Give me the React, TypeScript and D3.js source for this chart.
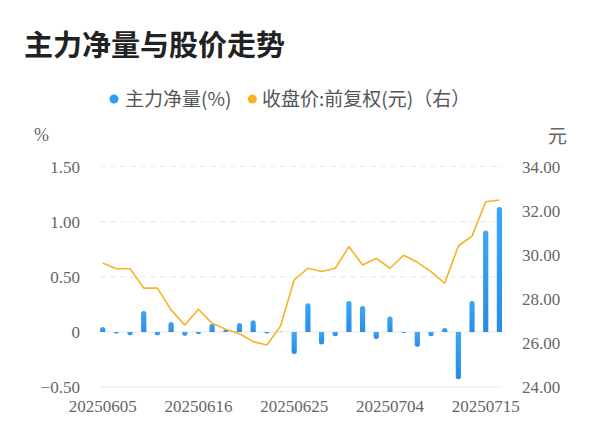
import React from 'react';
import * as d3 from 'd3';

const dates = [
  '20250605', '20250606', '20250609', '20250610', '20250611', '20250612', '20250613',
  '20250616', '20250617', '20250618', '20250619', '20250620', '20250623', '20250624',
  '20250625', '20250626', '20250627', '20250630', '20250701', '20250702', '20250703',
  '20250704', '20250707', '20250708', '20250709', '20250710', '20250711', '20250714',
  '20250715', '20250716',
];

// 主力净量(%)
const netFlow = [
  0.045, -0.015, -0.03, 0.19, -0.03, 0.09, -0.035, -0.02, 0.075, 0.025,
  0.08, 0.105, -0.015, 0.003, -0.2, 0.26, -0.115, -0.04, 0.28, 0.235,
  -0.065, 0.14, -0.01, -0.135, -0.04, 0.035, -0.43, 0.28, 0.92, 1.135,
];

// 收盘价:前复权(元)
const closePrice = [
  29.63, 29.37, 29.37, 28.49, 28.49, 27.5, 26.81, 27.53, 26.89, 26.62,
  26.42, 26.06, 25.91, 26.77, 28.86, 29.39, 29.24, 29.39, 30.37, 29.54,
  29.84, 29.39, 29.98, 29.66, 29.24, 28.71, 30.4, 30.85, 32.41, 32.49,
];

const leftTicks = [-0.5, 0, 0.5, 1, 1.5];
const rightTicks = [24, 26, 28, 30, 32, 34];
const xLabelDates = ['20250605', '20250616', '20250625', '20250704', '20250715'];

const W = 600;
const H = 446;
const plot = { left: 100, right: 502, top: 166.7, bottom: 387 };
const tickFont = '"Liberation Serif", serif';
const cjkFont = '"Noto Sans CJK SC", "Noto Sans", sans-serif';

const App: React.FC = () => {
  const x = d3.scalePoint<string>().domain(dates).range([102.7, 499.4]);
  const yL = d3.scaleLinear().domain([-0.5, 1.5]).range([plot.bottom, plot.top]);
  const yR = d3.scaleLinear().domain([24, 34]).range([plot.bottom, plot.top]);

  const barW = 5.2;
  const r = 2.5;
  // 柱子远端做圆角
  const barPath = (d: string, v: number) => {
    const cx = x(d) as number;
    const x0 = cx - barW / 2;
    const x1 = cx + barW / 2;
    const y0 = yL(0);
    const y1 = yL(v);
    const h = Math.abs(y1 - y0);
    const rr = Math.min(r, h);
    if (v >= 0) {
      return `M${x0},${y0}L${x0},${y1 + rr}Q${x0},${y1} ${cx},${y1}Q${x1},${y1} ${x1},${y1 + rr}L${x1},${y0}Z`;
    }
    return `M${x0},${y0}L${x0},${y1 - rr}Q${x0},${y1} ${cx},${y1}Q${x1},${y1} ${x1},${y1 - rr}L${x1},${y0}Z`;
  };

  const line = d3.line<number>()
    .x((_, i) => x(dates[i]) as number)
    .y(d => yR(d));

  return (
    <div style={{ position: 'absolute', left: 0, top: 0 }}>
      <svg width={W} height={H} style={{ display: 'block', background: '#fff' }}>
        <defs>
          <linearGradient id="barGrad" x1="0" y1="0" x2="0" y2="1">
            <stop offset="0%" stopColor="#3ba7f6" />
            <stop offset="100%" stopColor="#2a8be6" />
          </linearGradient>
        </defs>

        <text x={24} y={56} fontFamily={cjkFont} fontWeight="bold" fontSize={29} fill="#222">
          主力净量与股价走势
        </text>

        {/* legend */}
        <circle cx={114} cy={99} r={4.5} fill="#2f9cf4" />
        <text x={125} y={99} dy="0.35em" fontFamily={cjkFont} fontSize={19} fill="#555">
          主力净量(%)
        </text>
        <circle cx={252.3} cy={99} r={4.5} fill="#fbb324" />
        <text x={262} y={99} dy="0.35em" fontFamily={cjkFont} fontSize={19} fill="#555">
          收盘价:前复权(元)（右）
        </text>

        {/* axis units */}
        <text x={41.5} y={135} dy="0.35em" textAnchor="middle" fontFamily={tickFont} fontSize={18} fill="#666">
          %
        </text>
        <text x={557.5} y={136.5} dy="0.35em" textAnchor="middle" fontFamily={cjkFont} fontSize={19} fill="#666">
          元
        </text>

        {/* grid */}
        {leftTicks.map(t => (
          <line
            key={`g${t}`}
            x1={plot.left}
            x2={plot.right}
            y1={yL(t)}
            y2={yL(t)}
            stroke="#e8e8e8"
            strokeWidth={1}
            strokeDasharray={t > 0 ? '6 4' : undefined}
          />
        ))}

        {/* left ticks */}
        {leftTicks.map(t => (
          <text key={`l${t}`} x={80} y={yL(t)} dy="0.35em" textAnchor="end" fontFamily={tickFont} fontSize={17} fill="#666">
            {t === 0 ? '0' : d3.format('.2f')(t)}
          </text>
        ))}

        {/* right ticks */}
        {rightTicks.map(t => (
          <text key={`r${t}`} x={522} y={yR(t)} dy="0.35em" fontFamily={tickFont} fontSize={17} fill="#666">
            {d3.format('.2f')(t)}
          </text>
        ))}

        {/* x labels */}
        {xLabelDates.map(d => (
          <text key={d} x={x(d) as number} y={412} textAnchor="middle" fontFamily={tickFont} fontSize={17} fill="#666">
            {d}
          </text>
        ))}

        {/* bars */}
        {netFlow.map((v, i) => (
          <path key={`b${i}`} d={barPath(dates[i], v)} fill="url(#barGrad)" />
        ))}

        {/* price line */}
        <path d={line(closePrice) || ''} fill="none" stroke="#f9b225" strokeWidth={1.6} strokeLinejoin="round" />
      </svg>
    </div>
  );
};

export default App;
